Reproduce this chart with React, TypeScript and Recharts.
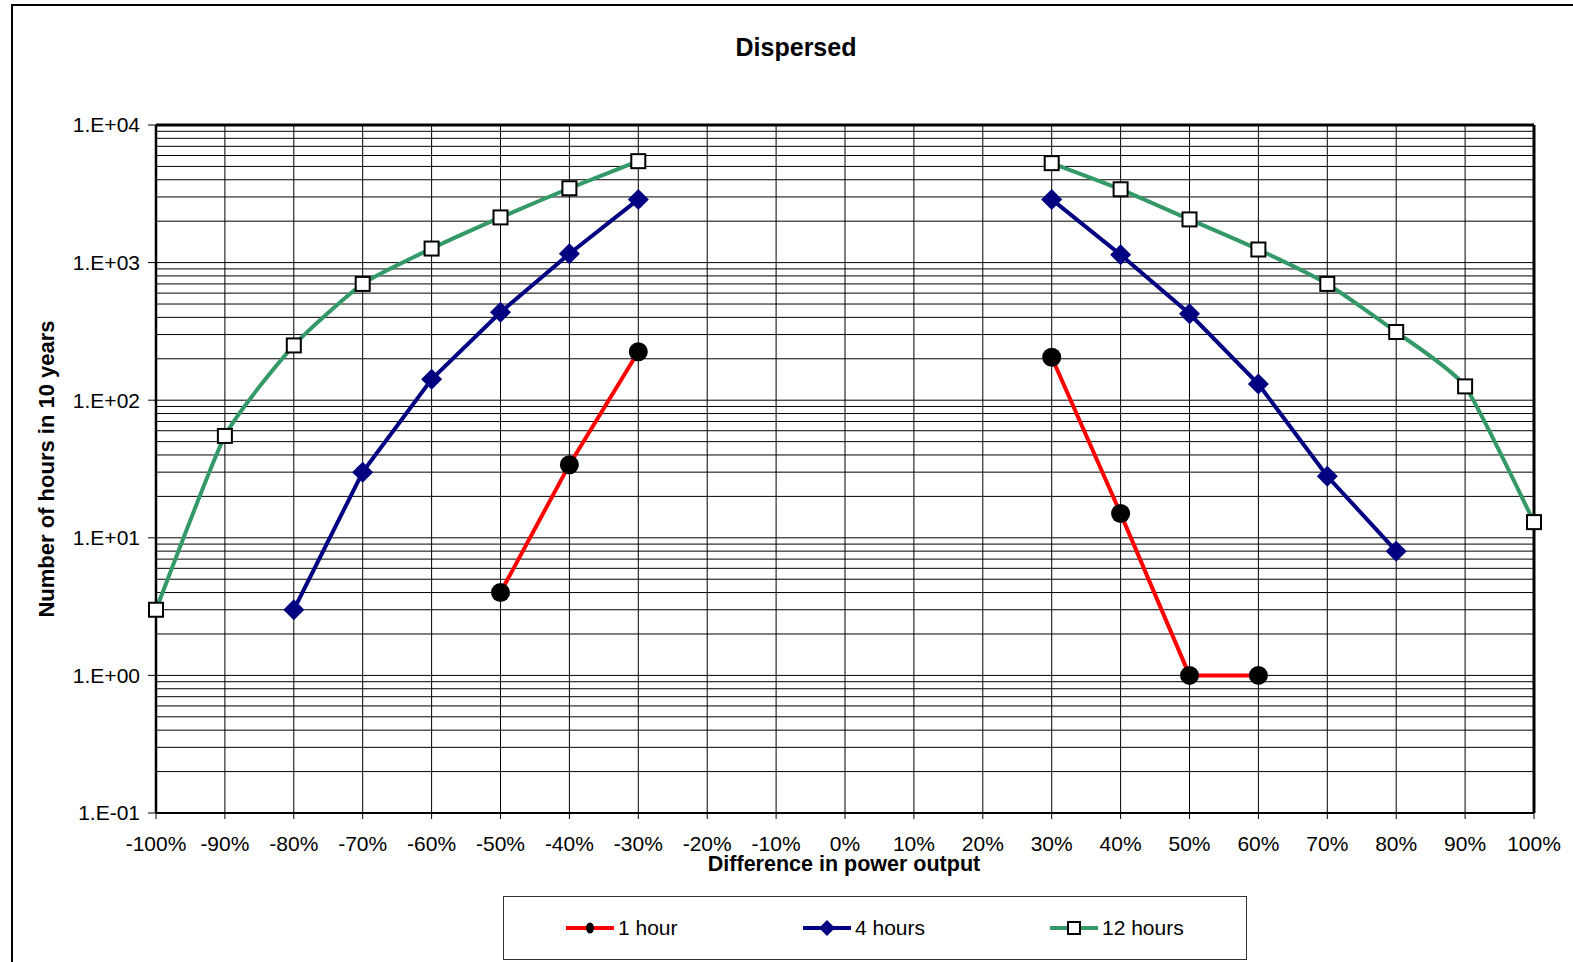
import { LineChart, Line, XAxis, YAxis, CartesianGrid, ReferenceLine } from "recharts";

// ── Data ─────────────────────────────────────────────────────────────────────

const diffPct = [-100, -90, -80, -70, -60, -50, -40, -30, -20, -10, 0, 10, 20, 30, 40, 50, 60, 70, 80, 90, 100];

const oneHour = [null, null, null, null, null, 4, 34, 225, null, null, null, null, null, 205, 15, 1, 1, null, null, null, null];
const fourHours = [null, null, 3, 30, 142, 435, 1160, 2880, null, null, null, null, null, 2880, 1140, 425, 131, 28, 8, null, null];
const twelveHours = [3, 55, 250, 700, 1265, 2130, 3470, 5460, null, null, null, null, null, 5280, 3410, 2060, 1245, 700, 313, 126, 13];

const xTicks = diffPct;
const yTicks = [0.1, 1, 10, 100, 1000, 10000];

// minor log grid: 1..9 x each decade
const gridValues: number[] = [];
for (let d = -1; d < 4; d++) {
  for (let k = 1; k < 10; k++) gridValues.push(+(k * Math.pow(10, d)).toPrecision(3));
}
gridValues.push(10000);

const data = diffPct.map((x, i) => ({ x, h1: oneHour[i], h4: fourHours[i], h12: twelveHours[i] }));

// ── Styling ──────────────────────────────────────────────────────────────────

const FONT = "'Liberation Sans', Arial, sans-serif";
const RED = "#FF0000";
const NAVY = "#000080";
const GREEN = "#339966";

const fmtY = (v: number) => {
  const e = Math.round(Math.log10(v));
  const sign = e < 0 ? "-" : "+";
  return `1.E${sign}${String(Math.abs(e)).padStart(2, "0")}`;
};

// Excel-like smoothed line (cardinal spline as cubic beziers, mild tension)
const SMOOTH = 1 / 11;
const smoothCurve = (context: any) => {
  let pts: number[][] = [];
  return {
    areaStart() {},
    areaEnd() {},
    lineStart() {
      pts = [];
    },
    point(x: number, y: number) {
      pts.push([+x, +y]);
    },
    lineEnd() {
      if (!pts.length) return;
      context.moveTo(pts[0][0], pts[0][1]);
      for (let i = 0; i < pts.length - 1; i++) {
        const p0 = pts[i - 1] || pts[i];
        const p1 = pts[i];
        const p2 = pts[i + 1];
        const p3 = pts[i + 2] || p2;
        context.bezierCurveTo(
          p1[0] + (p2[0] - p0[0]) * SMOOTH,
          p1[1] + (p2[1] - p0[1]) * SMOOTH,
          p2[0] - (p3[0] - p1[0]) * SMOOTH,
          p2[1] - (p3[1] - p1[1]) * SMOOTH,
          p2[0],
          p2[1]
        );
      }
    },
  };
};

// ── Markers ──────────────────────────────────────────────────────────────────

function CircleDot(props: any) {
  const { cx, cy, index } = props;
  if (cy == null || cx == null) return <g key={`c${index}`} />;
  return <circle key={`c${index}`} cx={cx} cy={cy} r={9.5} fill="#000" />;
}

function DiamondDot(props: any) {
  const { cx, cy, index } = props;
  if (cy == null || cx == null) return <g key={`d${index}`} />;
  const s = 10.5;
  return <path key={`d${index}`} d={`M${cx},${cy - s}L${cx + s},${cy}L${cx},${cy + s}L${cx - s},${cy}Z`} fill={NAVY} />;
}

function SquareDot(props: any) {
  const { cx, cy, index } = props;
  if (cy == null || cx == null) return <g key={`s${index}`} />;
  const s = 7;
  return <rect key={`s${index}`} x={cx - s} y={cy - s} width={2 * s} height={2 * s} fill="#fff" stroke="#000" strokeWidth={2} />;
}

function LegendItem({ color, label, marker }: { color: string; label: string; marker: "circle" | "diamond" | "square" }) {
  return (
    <div style={{ display: "flex", alignItems: "center" }}>
      <svg width={50} height={22} style={{ marginRight: 3 }}>
        <line x1={1} y1={11} x2={49} y2={11} stroke={color} strokeWidth={4} />
        {marker === "circle" && <ellipse cx={25} cy={11} rx={4} ry={5.5} fill="#000" />}
        {marker === "diamond" && <path d="M25,3L33,11L25,19L17,11Z" fill={NAVY} />}
        {marker === "square" && <rect x={19} y={5} width={12} height={12} fill="#fff" stroke="#000" strokeWidth={2} />}
      </svg>
      <span style={{ fontFamily: FONT, fontSize: 21, color: "#000" }}>{label}</span>
    </div>
  );
}

// ── Chart ────────────────────────────────────────────────────────────────────

export default function App() {
  return (
    <div style={{ position: "fixed", left: 0, top: 0, width: 1573, height: 962, overflow: "hidden", background: "#fff" }}>
      {/* chart frame */}
      <div style={{ position: "absolute", left: 11, top: 4, width: 1566, height: 1000, border: "2px solid #000" }} />

      <div style={{ position: "absolute", left: 0, top: 0 }}>
        <LineChart width={1573} height={962} data={data} margin={{ top: 125, right: 39, bottom: 109, left: 76 }}>
          <CartesianGrid yAxisId="grid" stroke="#000" strokeWidth={1} />
          <XAxis
            type="number"
            dataKey="x"
            domain={[-100, 100]}
            ticks={xTicks}
            interval={0}
            height={40}
            tickFormatter={(v: number) => `${v}%`}
            tick={{ fill: "#000", fontFamily: FONT, fontSize: 21 }}
            tickSize={6}
            tickMargin={17}
            axisLine={{ stroke: "#000", strokeWidth: 2 }}
            tickLine={{ stroke: "#000" }}
          />
          <YAxis
            scale="log"
            domain={[0.1, 10000]}
            ticks={yTicks}
            interval={0}
            allowDataOverflow
            width={80}
            tickFormatter={fmtY}
            tick={{ fill: "#000", fontFamily: FONT, fontSize: 21 }}
            tickSize={8}
            tickMargin={8}
            axisLine={{ stroke: "#000", strokeWidth: 2.5 }}
            tickLine={{ stroke: "#000" }}
          />
          <YAxis yAxisId="grid" hide scale="log" domain={[0.1, 10000]} ticks={gridValues} interval={0} allowDataOverflow />
          <ReferenceLine y={10000} stroke="#000" strokeWidth={3} />
          <ReferenceLine x={100} stroke="#000" strokeWidth={3} />
          <Line
            dataKey="h12"
            type={smoothCurve as any}
            stroke={GREEN}
            strokeWidth={4}
            dot={SquareDot}
            activeDot={false}
            connectNulls={false}
            isAnimationActive={false}
          />
          <Line
            dataKey="h4"
            type="linear"
            stroke={NAVY}
            strokeWidth={4}
            dot={DiamondDot}
            activeDot={false}
            connectNulls={false}
            isAnimationActive={false}
          />
          <Line
            dataKey="h1"
            type="linear"
            stroke={RED}
            strokeWidth={4}
            dot={CircleDot}
            activeDot={false}
            connectNulls={false}
            isAnimationActive={false}
          />
        </LineChart>
      </div>

      {/* title */}
      <div style={{ position: "absolute", left: 11, width: 1570, top: 33, textAlign: "center", lineHeight: 1.15, fontFamily: FONT, fontWeight: 700, fontSize: 25, color: "#000" }}>
        Dispersed
      </div>

      {/* y axis title */}
      <div
        style={{
          position: "absolute",
          left: 47,
          top: 469,
          transform: "translate(-50%, -50%) rotate(-90deg)",
          whiteSpace: "nowrap",
          lineHeight: 1,
          fontFamily: FONT,
          fontWeight: 700,
          fontSize: 22,
          color: "#000",
        }}
      >
        Number of hours in 10 years
      </div>

      {/* x axis title */}
      <div
        style={{
          position: "absolute",
          left: 844,
          top: 865,
          transform: "translate(-50%, -50%)",
          whiteSpace: "nowrap",
          lineHeight: 1,
          fontFamily: FONT,
          fontWeight: 700,
          fontSize: 21.5,
          color: "#000",
        }}
      >
        Difference in power output
      </div>

      {/* legend */}
      <div
        style={{
          position: "absolute",
          left: 503,
          top: 896,
          width: 744,
          height: 64,
          boxSizing: "border-box",
          border: "1px solid #333",
          background: "#fff",
        }}
      >
        <div style={{ position: "absolute", left: 61, top: 19 }}>
          <LegendItem color={RED} label="1 hour" marker="circle" />
        </div>
        <div style={{ position: "absolute", left: 298, top: 19 }}>
          <LegendItem color={NAVY} label="4 hours" marker="diamond" />
        </div>
        <div style={{ position: "absolute", left: 545, top: 19 }}>
          <LegendItem color={GREEN} label="12 hours" marker="square" />
        </div>
      </div>
    </div>
  );
}
